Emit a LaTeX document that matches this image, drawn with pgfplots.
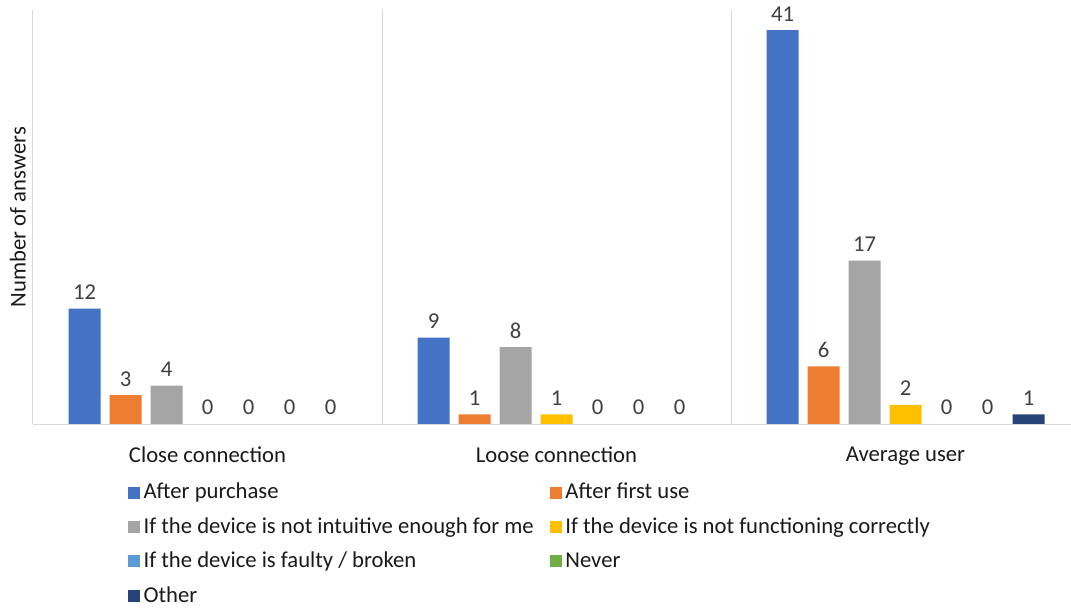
\documentclass[border=0pt]{standalone}
\usepackage{pgfplots}
\pgfplotsset{compat=1.18}
\usepackage{fontspec}
\setmainfont{Carlito}

\definecolor{cPurchase}{HTML}{4472C4}
\definecolor{cFirstUse}{HTML}{ED7D31}
\definecolor{cIntuitive}{HTML}{A5A5A5}
\definecolor{cFunction}{HTML}{FFC000}
\definecolor{cFaulty}{HTML}{5B9BD5}
\definecolor{cNever}{HTML}{70AD47}
\definecolor{cOther}{HTML}{264478}
\definecolor{gridgray}{HTML}{D9D9D9}
\definecolor{labelgray}{HTML}{404040}
\definecolor{textblack}{HTML}{1A1A1A}

\begin{document}
\fontsize{17}{20}\selectfont
\begin{tikzpicture}
\begin{axis}[
  name=ax,
  scale only axis,
  width=778.5pt, height=310.5pt,
  xmin=-0.5, xmax=2.4742,
  ymin=0, ymax=43.1,
  ybar=6.75pt, bar width=24pt,
  axis on top,
  axis x line*=bottom, axis y line*=left,
  x axis line style={draw=gridgray, line width=0.75pt, -},
  y axis line style={draw=none},
  xtick={0,1,2},
  xticklabels={Close connection, Loose connection, Average user},
  ytick=\empty,
  major tick length=0pt, minor tick length=0pt,
  minor xtick={-0.5,0.5,1.5},
  xminorgrids,
  minor grid style={draw=gridgray, line width=0.75pt},
  xticklabel style={font=\fontsize{17}{20}\selectfont, text=textblack, yshift=-11pt},
  ylabel={Number of answers},
  ylabel style={at={(axis description cs:-0.0145,0.5)}, anchor=center, rotate=0,
    font=\fontsize{17}{20}\selectfont, text=textblack},
  /pgf/number format/assume math mode=true,
  nodes near coords,
  every node near coord/.append style={font=\fontsize{17}{20}\selectfont, text=labelgray,
    inner sep=3pt, yshift=3.5pt},
  legend columns=2,
  legend cell align=left,
  legend image code/.code={\fill[#1] (0pt,-4.5pt) rectangle (9pt,4.5pt);},
  legend style={
    at={(0,0)}, anchor=north west, xshift=71.25pt, yshift=-44pt,
    draw=none, fill=none, inner sep=0pt,
    font=\fontsize{17}{20}\selectfont, text=textblack,
    row sep=11.5pt,
    nodes={inner xsep=2.5pt, inner ysep=0pt},
    /tikz/every even column/.append style={column sep=9.75pt},
  },
]
\addplot[fill=cPurchase, draw=none] coordinates {(0,12) (1,9) (2,41)};
\addplot[fill=cFirstUse, draw=none] coordinates {(0,3) (1,1) (2,6)};
\addplot[fill=cIntuitive, draw=none] coordinates {(0,4) (1,8) (2,17)};
\addplot[fill=cFunction, draw=none] coordinates {(0,0) (1,1) (2,2)};
\addplot[fill=cFaulty, draw=none] coordinates {(0,0) (1,0) (2,0)};
\addplot[fill=cNever, draw=none] coordinates {(0,0) (1,0) (2,0)};
\addplot[fill=cOther, draw=none] coordinates {(0,0) (1,0) (2,1)};
\legend{After purchase, After first use,
  If the device is not intuitive enough for me, If the device is not functioning correctly,
  If the device is faulty / broken, Never, Other}
\end{axis}
\pgfresetboundingbox
\path ([xshift=-24.75pt, yshift=-139.5pt]ax.south west) rectangle ([yshift=7.5pt]ax.north east);
\end{tikzpicture}
\end{document}
